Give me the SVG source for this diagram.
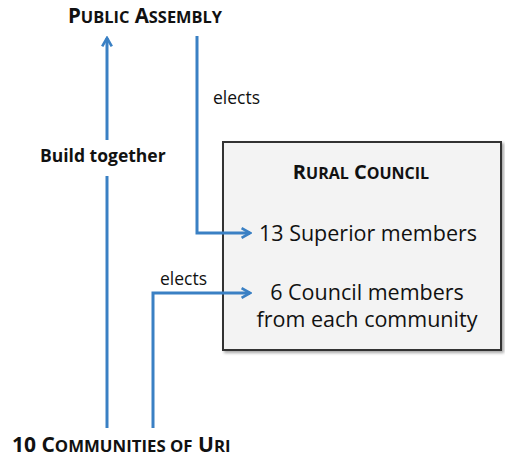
<svg xmlns="http://www.w3.org/2000/svg" width="505" height="463" viewBox="0 0 505 463">
<defs>
<marker id="ah" viewBox="0 0 10 10" refX="8" refY="5" markerWidth="4" markerHeight="4" orient="auto-start-reverse" markerUnits="strokeWidth">
<path d="M1,1 L8,5 L1,9" fill="none" stroke="#3a80c4" stroke-width="2.2"/>
</marker>
<filter id="sh" x="-5%" y="-5%" width="115%" height="115%">
<feDropShadow dx="2" dy="2" stdDeviation="1.5" flood-color="#000" flood-opacity="0.35"/>
</filter>
</defs>
<style>
.t{font-family:"Open Sans","Noto Sans",sans-serif;fill:#111}
.h{font-weight:bold}
.c{stroke:#3a80c4;stroke-width:3;fill:none}
.s{font-size:0.8em}
</style>
<rect width="505" height="463" fill="#fff"/>
<g id="public-assembly">
<text class="t h" x="145" y="23" font-size="20.5" text-anchor="middle">P<tspan class="s">UBLIC</tspan> A<tspan class="s">SSEMBLY</tspan></text>
</g>
<g id="rural-council">
<rect x="223" y="142" width="278" height="208" fill="#f3f3f3" stroke="#333" stroke-width="2" filter="url(#sh)"/>
<text class="t h" x="361" y="179" font-size="20" text-anchor="middle">R<tspan class="s">URAL</tspan> C<tspan class="s">OUNCIL</tspan></text>
<text class="t" x="368" y="241" font-size="21.5" text-anchor="middle">13 Superior members</text>
<text class="t" x="367" y="300" font-size="21.5" text-anchor="middle">6 Council members</text>
<text class="t" x="367" y="327" font-size="21.5" text-anchor="middle">from each community</text>
</g>
<g id="communities">
<text class="t h" x="12" y="452" font-size="21">10 C<tspan class="s">OMMUNITIES OF</tspan> U<tspan class="s">RI</tspan></text>
</g>
<g id="connectors">
<path class="c" d="M107,140 L107,38" marker-end="url(#ah)"/>
<path class="c" d="M107,428 L107,176"/>
<path class="c" d="M197,36 L197,233 L250,233" marker-end="url(#ah)"/>
<path class="c" d="M153,428 L153,293 L250,293" marker-end="url(#ah)"/>
<text class="t" x="213" y="104" font-size="17.5">elects</text>
<text class="t" x="160" y="285" font-size="17.5">elects</text>
<text class="t h" x="40" y="162" font-size="17.5">Build together</text>
</g>
</svg>
